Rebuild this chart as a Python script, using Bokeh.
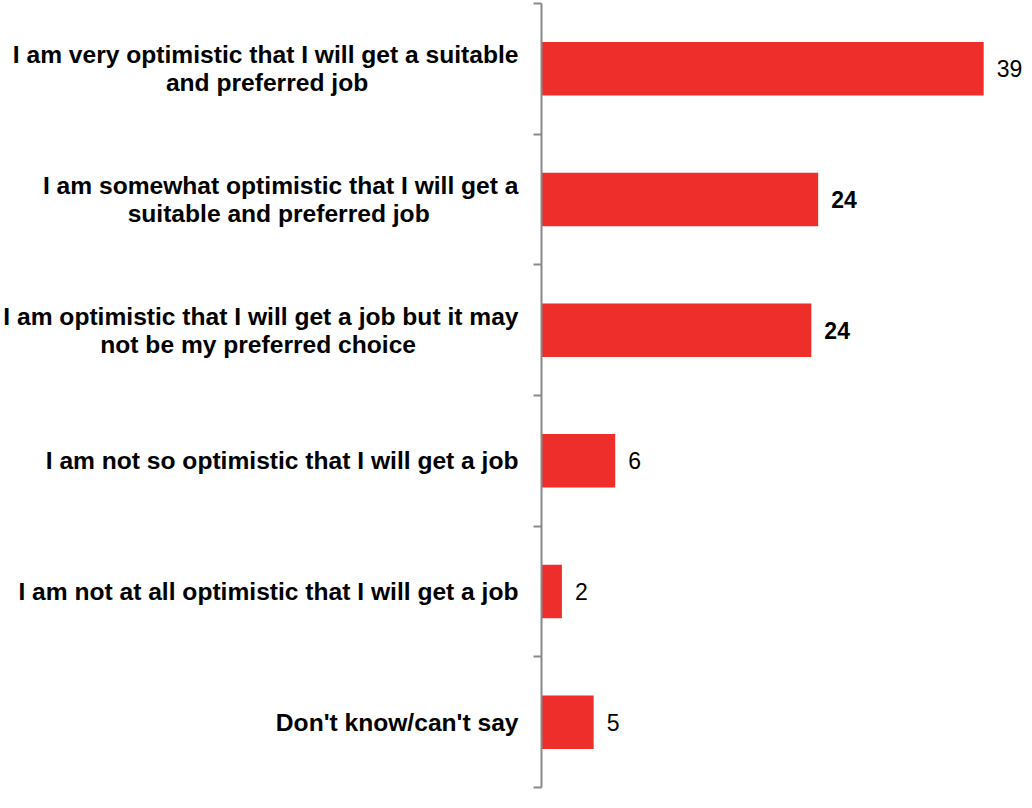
from bokeh.plotting import figure
from bokeh.models import ColumnDataSource, FixedTicker, Range1d
from bokeh.core.properties import value
from bokeh.embed import file_html
from bokeh.resources import INLINE

categories = [
    "I am very optimistic that I will get a suitable\nand preferred job",
    "I am somewhat optimistic that I will get a\nsuitable and preferred job",
    "I am optimistic that I will get a job but it may\nnot be my preferred choice",
    "I am not so optimistic that I will get a job",
    "I am not at all optimistic that I will get a job",
    "Don't know/can't say",
]
values = [39.0, 24.4, 23.8, 6.5, 1.8, 4.6]
value_labels = ["39", "24", "24", "6", "2", "5"]
label_styles = ["normal", "bold", "bold", "normal", "normal", "normal"]

BAR_COLOR = "#EE2E2A"
AXIS_COLOR = "#898989"

# approximate Arial/Liberation Sans Bold advance widths (per 1000 em) used to
# centre the lines of each multi-line category label inside its right-aligned block
_W = {"I": 278, " ": 278, "i": 278, "l": 278, "j": 278, "t": 333, "f": 333,
      "r": 389, "'": 238, "/": 278, "m": 889, "w": 778, "D": 722,
      "o": 611, "p": 611, "b": 611, "d": 611, "g": 611, "h": 611, "n": 611,
      "q": 611, "u": 611}


def _width(s):
    return sum(_W.get(c, 556) for c in s)


def centre_lines(label):
    lines = label.split("\n")
    wmax = max(_width(l) for l in lines)
    out = []
    for l in lines:
        pad = int(round((wmax - _width(l)) / 2 / 278))
        out.append(l + "\u00a0" * pad)
    return "\n".join(out)


n = len(categories)
centers = [i + 0.5 for i in range(n)]
bounds = [float(i) for i in range(n + 1)]

source = ColumnDataSource(dict(y=centers, v=values, lab=value_labels, style=label_styles))

p = figure(
    width=1024, height=790,
    x_range=Range1d(0, 42.6), y_range=Range1d(n, 0),
    output_backend="svg", toolbar_location=None,
    x_axis_location=None,
    min_border_left=532, min_border_right=0, min_border_top=3, min_border_bottom=3,
)
p.outline_line_color = None
p.xgrid.visible = False
p.ygrid.visible = False
p.background_fill_color = "white"
p.border_fill_color = "white"

p.hbar(y="y", left=0, right="v", height=0.41, source=source,
       fill_color=BAR_COLOR, line_color=None)

p.text(x="v", y="y", text="lab", source=source, x_offset=13,
       text_baseline="middle", text_align="left",
       text_font=value("Liberation Sans"), text_font_size="23px",
       text_font_style="style", text_color="black")

ax = p.yaxis[0]
ax.ticker = FixedTicker(ticks=centers, minor_ticks=bounds)
ax.major_label_overrides = {c: centre_lines(t) for c, t in zip(centers, categories)}
ax.major_tick_out = 0
ax.major_tick_in = 0
ax.major_tick_line_color = None
ax.minor_tick_out = 8
ax.minor_tick_in = 0
ax.minor_tick_line_color = AXIS_COLOR
ax.minor_tick_line_width = 2
ax.axis_line_color = AXIS_COLOR
ax.axis_line_width = 2
ax.major_label_standoff = 15
ax.major_label_text_font = "Liberation Sans"
ax.major_label_text_font_style = "bold"
ax.major_label_text_font_size = "24.6px"
ax.major_label_text_line_height = 1.03
ax.major_label_text_color = "black"

open("out.html", "w").write(file_html(p, INLINE))
